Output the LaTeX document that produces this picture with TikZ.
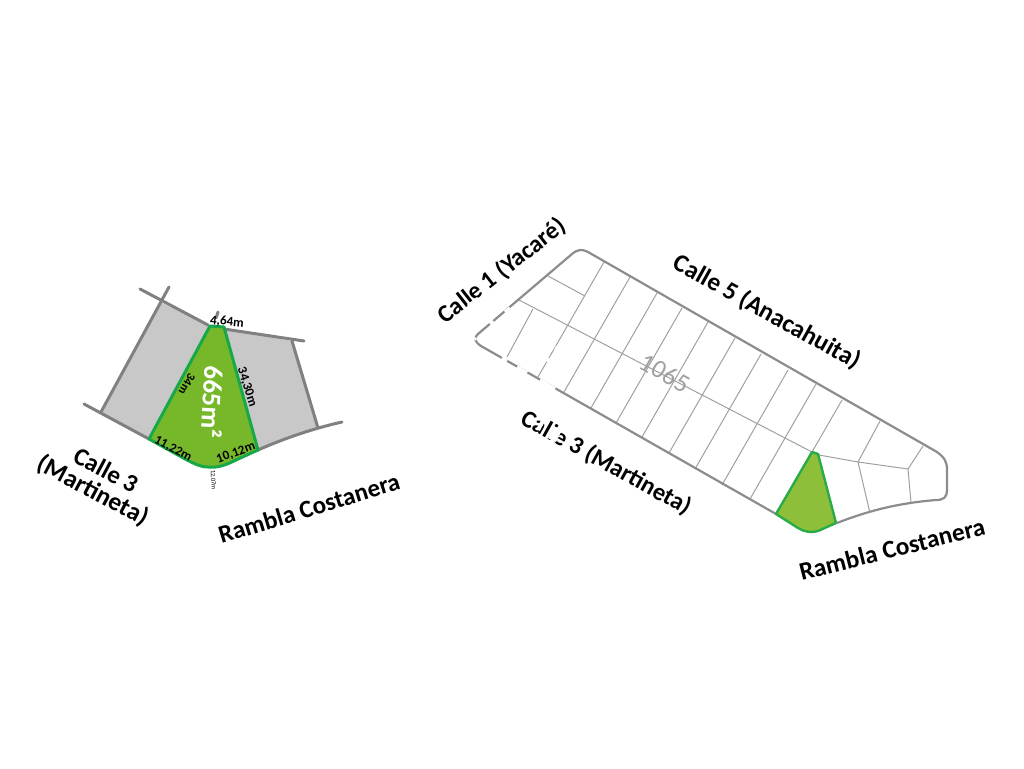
\documentclass[tikz,border=0pt]{standalone}
\usepackage{fontspec}
\setmainfont{Carlito}
\newcommand{\fs}[1]{\fontsize{#1}{#1}\selectfont}
\tikzset{
  road/.style={draw=roadgray,line width=3pt,line cap=round,line join=round},
  edge/.style={draw=edgegray,line width=2.2pt,line join=round},
  lotline/.style={draw=lotgray,line width=1pt},
  erase/.style={draw=white,line width=3.5pt},
  street/.style={font=\fs{25}\bfseries,text=black,inner sep=0pt},
  dim/.style={font=\fs{13}\bfseries,text=black,inner sep=0pt},
}
\definecolor{roadgray}{HTML}{808080}
\definecolor{edgegray}{HTML}{8C8C8C}
\definecolor{lotgray}{HTML}{A0A0A0}
\definecolor{lotfill}{HTML}{C8C8C8}
\definecolor{plotA}{HTML}{76B82A}
\definecolor{plotB}{HTML}{8DBF3A}
\definecolor{plotedge}{HTML}{17A84A}
\begin{document}
\begin{tikzpicture}[x=1pt,y=-1pt]
\useasboundingbox (0,0) rectangle (1024,768);
% left figure
\fill[lotfill] (160,302) -- (208,325) -- (212,327) -- (149,439) -- (101,412) -- cycle;
\fill[lotfill] (224,329) -- (292,341) -- (318,428) -- (258,450) -- cycle;
\draw[road] (140,289) -- (208,325);
\draw[road] (169,287) -- (101,412);
\draw[road] (84,404) -- (149,439);
\draw[road] (224,329) -- (304,341);
\draw[road] (292,341) -- (318,428);
\draw[road] (258,450) .. controls (285,438) and (315,428) .. (342,422);
\draw[road] (218,312) -- (216,318);
\draw[fill=plotA,draw=plotedge,line width=3pt,line join=round]
  (210,326) -- (224,327) -- (258,450) -- (236,460)
  .. controls (226,465) and (218,468) .. (208,467)
  .. controls (200,467) and (193,463) .. (187,460) -- (149,439) -- cycle;
\node[font=\fs{27}\bfseries,text=white,rotate=-93,inner sep=0pt] (area) at (213,402) {665m²};
\node[dim,rotate=-5] (d1) at (227,322) {4,64m};
\node[dim,rotate=-120,font=\fs{12}\bfseries] (d2) at (187,384) {34m};
\node[dim,rotate=-72] (d3) at (247,387) {34,30m};
\node[dim,rotate=-28] (d4) at (173,449) {11,22m};
\node[dim,rotate=20] (d5) at (236,453) {10,12m};
\node[font=\fs{6.5},rotate=-87,inner sep=0pt] (d6) at (213,480) {12,07m};
\node[street,rotate=-28] (s1) at (106,470) {Calle 3};
\node[street,rotate=-28,font=\fs{25.5}\bfseries] (s2) at (93,491) {(Martineta)};
\node[street,rotate=17] (s3) at (309,508) {Rambla Costanera};
% right figure: lot lines
\foreach \x/\y in {604/262,630/277,657/293,682/308,708/322,735/338,761/354,788/370,816/384}
  \draw[lotline] (\x,\y) -- ++(-66,115);
\draw[lotline] (842,400) -- (812,452);
\draw[lotline] (880,421) -- (858,462);
\draw[lotline] (519,300) -- (812,452);
\draw[lotline] (548,276) -- (585,296);
\draw[lotline] (533,309) -- (507,357);
\draw[lotline] (819,455) -- (858,462) -- (908,469);
\draw[lotline] (923,446) -- (908,469) -- (911,503);
\draw[lotline] (858,462) -- (870,513);
% right figure: outline
\draw[edge] (776,514) -- (481,346) .. controls (475,342) and (473,338) .. (478,334)
  -- (572,254) .. controls (578,249) and (582,249) .. (588,252)
  -- (937,452) .. controls (945,458) and (947,462) .. (947,470) -- (947,490)
  .. controls (947,497) and (944,500) .. (936,500)
  .. controls (900,503) and (870,510) .. (837,523);
\draw[fill=plotB,draw=plotedge!85!plotB,line width=2.4pt,line join=round]
  (812,452) -- (818,454) -- (836,523) -- (818,531)
  .. controls (812,533) and (804,532) .. (798,528) -- (776,514) -- cycle;
\node[font=\fs{26},text=lotgray,rotate=-30,inner sep=0pt] (n) at (665,373) {1065};
\node[street,rotate=38,font=\fs{24.5}\bfseries] (r1) at (502,271) {Calle 1 (Yacaré)};
\node[street,rotate=-29,font=\fs{25.3}\bfseries] (r2) at (767,312) {Calle 5 (Anacahuita)};
\node[street,rotate=-29,font=\fs{24.5}\bfseries] (r3) at (606,463) {Calle 3 (Martineta)};
\node[street,rotate=14,font=\fs{25.3}\bfseries] (r4) at (892,549) {Rambla Costanera};
% white retouching over the street names and the outline
\draw[erase] (490,324) -- (493,321);
\draw[erase] (505,312) -- (510,308);
\draw[erase,line width=2pt] (474,337) -- (476,340);
\draw[erase] (502,358) -- (507,361);
\draw[erase] (517,367) -- (527,373);
\draw[erase] (540,380) -- (555,389);
\draw[erase,line width=2pt] (557,346) -- (555,350);
\draw[erase,line width=2pt] (549,358) -- (547,362);
\draw[erase,line width=3pt] (468,306) -- (478,298);
\draw[erase,line width=4pt] (545,417) -- (538,430);
\draw[erase,line width=9pt] (558,428) -- (552,440);
\end{tikzpicture}
\end{document}
